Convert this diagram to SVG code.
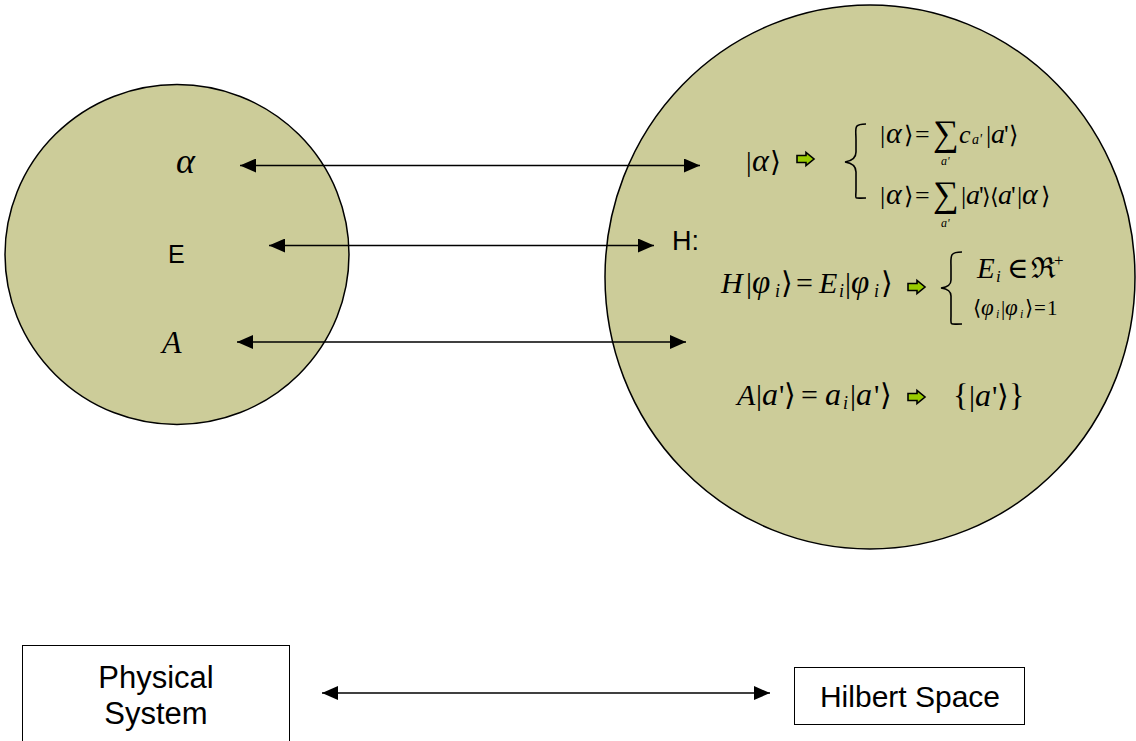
<svg xmlns="http://www.w3.org/2000/svg" width="1136" height="741" viewBox="0 0 1136 741">
<style>
.blob{fill:#CCCC99;stroke:#000;stroke-width:1.5}
.box{fill:#fff;stroke:#000;stroke-width:1}
.conn{stroke:#000;stroke-width:1.5;fill:none;marker-start:url(#ah);marker-end:url(#ah)}
.sans{font-family:"Liberation Sans",Arial,sans-serif;fill:#000}
.m{font-family:"Liberation Serif","DejaVu Serif",serif;font-style:italic;fill:#000}
.u{font-family:"Liberation Serif","DejaVu Serif",serif;font-style:normal}
.br{fill:none;stroke:#000;stroke-width:1.6}
.ga{fill:#99CC00;stroke:#000;stroke-width:1.6}
</style>
<defs>
<marker id="ah" viewBox="0 0 16 14" refX="16" refY="7" markerWidth="16" markerHeight="14" markerUnits="userSpaceOnUse" orient="auto-start-reverse">
<path d="M0,0 L16,7 L0,14 z" fill="#000"/>
</marker>
<path id="garrow" class="ga" d="M0,-3.5 L9,-3.5 L9,-6.5 L17,0 L9,6.5 L9,3.5 L0,3.5 z"/>
</defs>

<g id="physical-circle">
<ellipse class="blob" cx="177" cy="254.5" rx="172" ry="170"/>
<text class="m" x="176" y="173" font-size="36">α</text>
<text class="sans" x="168" y="263" font-size="25">E</text>
<text class="m" x="162" y="353" font-size="32">A</text>
</g>

<g id="hilbert-circle">
<ellipse class="blob" cx="870" cy="277" rx="265" ry="272"/>
<text class="sans" x="672" y="250" font-size="27">H:</text>

<!-- |alpha> expansion -->
<text class="m" y="171" font-size="28"><tspan class="u" x="746">|</tspan><tspan x="752" font-size="32">α</tspan><tspan class="u" x="770">⟩</tspan></text>
<use href="#garrow" x="797" y="159"/>
<path class="br" d="M866,124 C853,124 856,128 856,140 L856,152 C856,158 852,161 845,162 C852,163 856,166 856,172 L856,190 C856,200 853,198 866,198"/>
<text class="m" y="143" font-size="26"><tspan class="u" x="880">|</tspan><tspan x="886" font-size="30">α</tspan><tspan class="u" x="904" font-size="24">⟩</tspan><tspan class="u" x="915">=</tspan><tspan class="u" x="933" font-size="36" dy="2">∑</tspan><tspan x="959" dy="-2">c</tspan><tspan x="972" font-size="14" dy="1">a'</tspan><tspan class="u" x="986" dy="-1">|</tspan><tspan x="991" font-size="28">a</tspan><tspan class="u" x="1004">'</tspan><tspan class="u" x="1009" font-size="24">⟩</tspan></text>
<text class="m" x="941" y="165" font-size="12">a'</text>
<text class="m" y="204" font-size="26"><tspan class="u" x="880">|</tspan><tspan x="886" font-size="30">α</tspan><tspan class="u" x="904" font-size="24">⟩</tspan><tspan class="u" x="915">=</tspan><tspan class="u" x="933" font-size="36" dy="2">∑</tspan><tspan class="u" x="961" dy="-2">|</tspan><tspan x="966" font-size="28">a</tspan><tspan class="u" x="979">'</tspan><tspan class="u" x="982" font-size="22">⟩</tspan><tspan class="u" x="990" font-size="22">⟨</tspan><tspan x="998" font-size="28">a</tspan><tspan class="u" x="1011">'</tspan><tspan class="u" x="1017">|</tspan><tspan x="1022" font-size="30">α</tspan><tspan class="u" x="1041" font-size="24">⟩</tspan></text>
<text class="m" x="941" y="227" font-size="12">a'</text>

<!-- Hamiltonian eigen equation -->
<text class="m" y="293" font-size="30"><tspan x="721">H</tspan><tspan class="u" x="746">|</tspan><tspan x="752" font-size="33">φ</tspan><tspan x="775" font-size="18" dy="4">i</tspan><tspan class="u" x="781" dy="-4">⟩</tspan><tspan class="u" x="796">=</tspan><tspan x="819">E</tspan><tspan x="839" font-size="18" dy="4">i</tspan><tspan class="u" x="845" dy="-4">|</tspan><tspan x="851" font-size="33">φ</tspan><tspan x="874" font-size="18" dy="4">i</tspan><tspan class="u" x="881" dy="-4">⟩</tspan></text>
<use href="#garrow" x="908" y="287"/>
<path class="br" d="M962,252 C949,252 951,256 951,268 L951,280 C951,285 948,287 941,288 C948,289 951,291 951,296 L951,316 C951,326 949,324 962,324"/>
<text class="m" y="278" font-size="29"><tspan x="977">E</tspan><tspan x="996" font-size="17" dy="4">i</tspan><tspan class="u" x="1007" dy="-4">∈</tspan><tspan class="u" x="1031">ℜ</tspan><tspan class="u" x="1054" font-size="17" dy="-12">+</tspan></text>
<text class="m" y="315" font-size="21"><tspan class="u" x="973">⟨</tspan><tspan x="981" font-size="23">φ</tspan><tspan x="996" font-size="12" dy="3">i</tspan><tspan class="u" x="1001" dy="-3">|</tspan><tspan x="1005" font-size="23">φ</tspan><tspan x="1020" font-size="12" dy="3">i</tspan><tspan class="u" x="1025" dy="-3">⟩</tspan><tspan class="u" x="1034">=</tspan><tspan class="u" x="1047">1</tspan></text>

<!-- observable eigen equation -->
<text class="m" y="405" font-size="30"><tspan x="737">A</tspan><tspan class="u" x="756">|</tspan><tspan x="762" font-size="32">a</tspan><tspan class="u" x="779">'</tspan><tspan class="u" x="784">⟩</tspan><tspan class="u" x="801">=</tspan><tspan x="825" font-size="32">a</tspan><tspan x="843" font-size="18" dy="4">i</tspan><tspan class="u" x="850" dy="-4">|</tspan><tspan x="856" font-size="32">a</tspan><tspan class="u" x="874">'</tspan><tspan class="u" x="880">⟩</tspan></text>
<use href="#garrow" x="908" y="397"/>
<text class="m" y="406" font-size="30"><tspan class="u" x="953" font-size="32">{</tspan><tspan class="u" x="969">|</tspan><tspan x="975" font-size="32">a</tspan><tspan class="u" x="992">'</tspan><tspan class="u" x="997">⟩</tspan><tspan class="u" x="1009" font-size="32">}</tspan></text>
</g>

<g id="physical-system">
<rect class="box" x="22.5" y="645.5" width="267" height="100"/>
<text class="sans" x="156" y="688" font-size="31" text-anchor="middle">Physical</text>
<text class="sans" x="156" y="724" font-size="31" text-anchor="middle">System</text>
</g>

<g id="hilbert-space">
<rect class="box" x="794.5" y="667.5" width="230" height="57"/>
<text class="sans" x="910" y="707" font-size="30" text-anchor="middle">Hilbert Space</text>
</g>

<g id="connectors">
<line class="conn" x1="240" y1="165.5" x2="700" y2="165.5"/>
<line class="conn" x1="269" y1="245.5" x2="654" y2="245.5"/>
<line class="conn" x1="237" y1="342" x2="686" y2="342"/>
<line class="conn" x1="322" y1="693" x2="770" y2="693"/>
</g>
</svg>
